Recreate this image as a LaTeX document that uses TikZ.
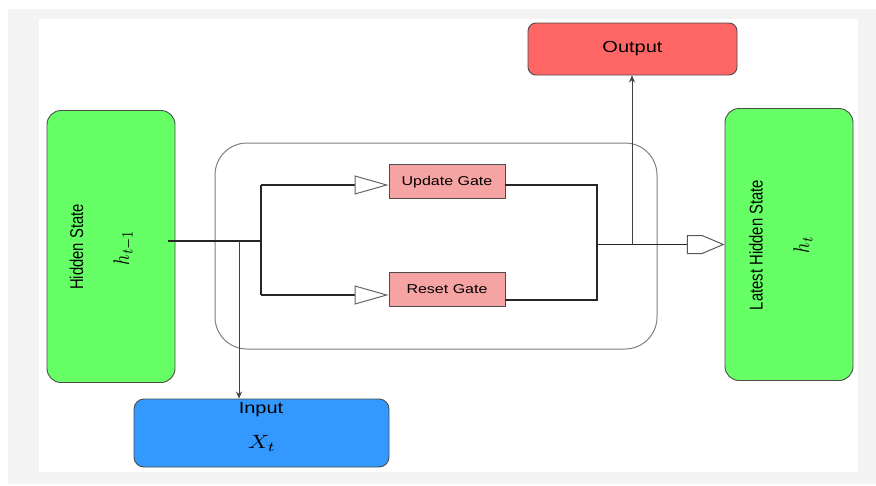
\documentclass[tikz,border=0pt]{standalone}
\usepackage{fontspec}
\setmainfont{Liberation Sans}
\usetikzlibrary{arrows.meta,shapes.arrows,calc}
\definecolor{hgreen}{HTML}{66FF66}
\definecolor{gatepink}{HTML}{F6A3A3}
\definecolor{outred}{HTML}{FF6666}
\definecolor{inblue}{HTML}{3399FF}
\definecolor{bggray}{HTML}{F4F4F4}
\newcommand\sqh[2]{\scalebox{1}[0.8]{\fontsize{#1}{#1}\selectfont #2}}
\newcommand\sqv[2]{\scalebox{0.8}[1]{\fontsize{#1}{#1}\selectfont #2}}
\begin{document}
\begin{tikzpicture}[x=1pt,y=-1pt,
  box/.style={draw=black!70,line width=0.9pt,inner sep=0pt},
  greenbox/.style={box,fill=hgreen,rounded corners=14pt,minimum width=128pt,minimum height=272pt},
  gatebox/.style={box,fill=gatepink,minimum width=116pt,minimum height=34pt},
  wire/.style={draw=black!85,line width=1.5pt},
  thinarrow/.style={draw=black!75,line width=0.9pt,-{Stealth[length=7pt,width=6pt]}},
  gatearrow/.style={wire,-{Triangle[open,length=34pt,width=19pt,line width=1pt,color=black!60]}},
  lbl/.style={inner sep=0pt},
]
\useasboundingbox (0,0) rectangle (876,485);
\fill[white] (0,0) rectangle (876,485);
\fill[bggray] (8,9) rectangle (876,484);
\fill[white] (39,19) rectangle (858,472);

% container
\node[draw=black!50,line width=1pt,rounded corners=32pt,minimum width=442pt,minimum height=206pt,inner sep=0pt] (cell) at (436,246) {};

% boxes
\node[greenbox] (hs) at (111,246.5) {};
\node[greenbox] (lhs) at (789,244.5) {};
\node[gatebox] (ug) at (447,181) {};
\node[gatebox] (rg) at (447,289) {};
\node[box,fill=outred,rounded corners=8pt,minimum width=209pt,minimum height=52pt] (out) at (632.5,49) {};
\node[box,fill=inblue,rounded corners=10pt,minimum width=255pt,minimum height=68pt] (inp) at (261.5,433) {};

% labels
\node[lbl,rotate=90] (hslbl) at (76.5,247) {\sqv{18.5}{Hidden State}};
\node[lbl,rotate=90] (hsmath) at (124,247.5) {\scalebox{1.8}[2.25]{$h_{t-1}$}};
\node[lbl,rotate=90] (lhslbl) at (756,245) {\sqv{18.5}{Latest Hidden State}};
\node[lbl,rotate=90] (lhsmath) at (803,245) {\scalebox{1.8}[2.25]{$h_{t}$}};
\node[lbl] (uglbl) at (447,182) {\sqh{16}{Update Gate}};
\node[lbl] (rglbl) at (447,289) {\sqh{16}{Reset Gate}};
\node[lbl] (outlbl) at (632.5,49) {\sqh{20}{Output}};
\node[lbl] (inlbl) at (261,410) {\sqh{20}{Input}};
\node[lbl] (inmath) at (262,443) {\scalebox{2.4}[1.92]{$X_t$}};

% block arrow into latest hidden state
\node[single arrow,draw=black!65,fill=white,line width=1pt,minimum height=36pt,minimum width=18pt,
      single arrow head extend=0pt,single arrow tip angle=46,inner sep=0pt,anchor=tip] (blk) at (lhs.west) {};

% coordinates
\coordinate (hsout) at (168,241);
\coordinate (busL) at (261,241);
\coordinate (busLt) at (261,185);
\coordinate (busLb) at (261,295);
\coordinate (busRt) at (597,185);
\coordinate (busRb) at (597,300);
\coordinate (busR) at (busRt |- blk.west);
\coordinate (inTap) at (239,241);
\coordinate (outTap) at (632,0 |- blk.west);

% wires
\draw[wire] (hsout) -- (busL);
\draw[wire] (busLt) -- (busLb);
\draw[gatearrow] (busLt) -- ($(ug.west)+(0,4)$);
\draw[gatearrow] (busLb) -- ($(rg.west)+(0,6)$);
\draw[wire] ($(ug.east)+(0,4)$) -- (busRt) -- (busRb) -- ($(rg.east)+(0,11)$);
\draw[wire] (busR) -- (blk.west);
\draw[thinarrow] (outTap) -- (outTap |- out.south);
\draw[thinarrow] (inTap) -- (inTap |- inp.north);
\end{tikzpicture}
\end{document}
